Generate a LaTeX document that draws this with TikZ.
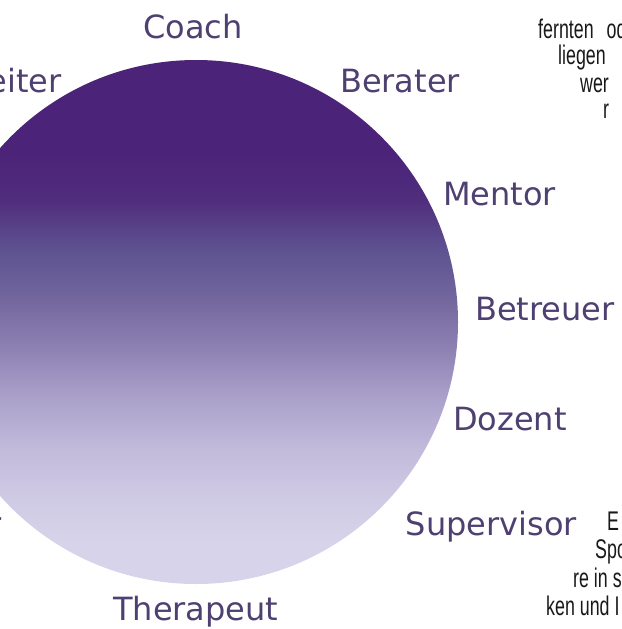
\documentclass[tikz,border=0pt]{standalone}
\usepackage{fontspec}
\newfontfamily\rolefont{DejaVu Sans}
\newfontfamily\bodyfont[FakeStretch=0.66]{Liberation Sans}

\definecolor{rolecol}{RGB}{78,64,112}
\definecolor{bodycol}{RGB}{25,25,25}
% shades of the circle, dark top to light bottom
\definecolor{shadeA}{RGB}{75,35,120}
\definecolor{shadeB}{RGB}{80,45,125}
\definecolor{shadeC}{RGB}{94,82,144}
\definecolor{shadeD}{RGB}{115,103,158}
\definecolor{shadeE}{RGB}{142,130,180}
\definecolor{shadeF}{RGB}{171,162,203}
\definecolor{shadeG}{RGB}{194,187,219}
\definecolor{shadeH}{RGB}{208,203,228}
\definecolor{shadeI}{RGB}{214,211,234}
\pgfdeclareverticalshading{roleshade}{100bp}{color(0bp)=(shadeI); color(29bp)=(shadeI);
  color(33bp)=(shadeH); color(37.8bp)=(shadeG); color(42.6bp)=(shadeF); color(47.4bp)=(shadeE);
  color(52.1bp)=(shadeD); color(56.9bp)=(shadeC); color(61.7bp)=(shadeB); color(66.4bp)=(shadeA);
  color(100bp)=(shadeA)}

\begin{document}
\begin{tikzpicture}[x=1pt, y=-1pt,
    role/.style={font=\rolefont\fontsize{32}{38}\selectfont, text=rolecol, inner sep=0pt, anchor=base west},
    body/.style={font=\bodyfont\fontsize{27}{32}\selectfont, text=bodycol, inner sep=0pt, anchor=base west}]
  \useasboundingbox (0,0) rectangle (621,629);

  % circle
  \shade[shading=roleshade] (196,322) circle (262pt);

  % roles round the circle
  \node[role] (coach) at (143,38) {Coach};
  \node[role, anchor=base east] (leiter) at (62,92) {eiter};
  \node[role] (berater) at (340,92) {Berater};
  \node[role] (mentor) at (443,205) {Mentor};
  \node[role] (betreuer) at (475,320) {Betreuer};
  \node[role] (dozent) at (453,430) {Dozent};
  \node[role, anchor=base east] (supervisor) at (577,535) {Supervisor};
  \node[role, anchor=base east] (trainer) at (2,535) {r};
  \node[role] (therapeut) at (113,620) {Therapeut};

  % running text on the right, cut at the edge
  \node[body] (lineA) at (538,38) {fernten\hspace{8pt} od};
  \node[body] (lineB) at (558,64) {liegen};
  \node[body] (lineC) at (580,92) {wer};
  \node[body] (lineD) at (603,118) {r};
  \node[body] (lineE) at (607,530) {E};
  \node[body] (lineF) at (595,558) {Spo};
  \node[body] (lineG) at (573,587) {re in s};
  \node[body] (lineH) at (546,615) {ken und I};
\end{tikzpicture}
\end{document}
